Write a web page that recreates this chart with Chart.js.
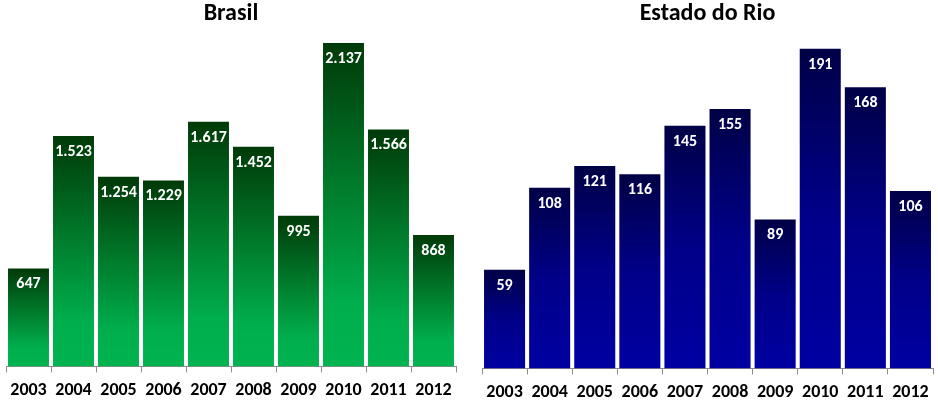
<!DOCTYPE html>
<html>
<head>
<meta charset="utf-8">
<script src="https://cdn.jsdelivr.net/npm/chart.js@4/dist/chart.umd.min.js"></script>
<style>
  body { margin: 0; background: #fff; overflow: hidden; }
  .panel { position: absolute; top: 0; width: 469px; height: 403px; overflow: hidden; }
</style>
</head>
<body>
<div class="panel" style="left:0"><canvas id="chart-brasil" width="469" height="408"></canvas></div>
<div class="panel" style="left:469px"><canvas id="chart-rio" width="469" height="410"></canvas></div>
<script>
const anos = ['2003', '2004', '2005', '2006', '2007', '2008', '2009', '2010', '2011', '2012'];
const valores_brasil = [647, 1523, 1254, 1229, 1617, 1452, 995, 2137, 1566, 868];
const valores_rio = [59, 108, 121, 116, 145, 155, 89, 191, 168, 106];

const FONTE = 'Carlito, Lato, sans-serif';

function formata_numero(v) {
    // separador de milhar com ponto
    return String(v).replace(/\B(?=(\d{3})+(?!\d))/g, '.');
}

function gradiente(stops) {
    return (ctx) => {
        const chart = ctx.chart;
        const y = chart.scales.y;
        if (!chart.chartArea || !y || ctx.raw === undefined) {
            return stops[stops.length - 1][1];
        }
        const topo = y.getPixelForValue(ctx.raw);
        const base = y.getPixelForValue(0);
        const g = chart.ctx.createLinearGradient(0, topo, 0, base);
        stops.forEach(s => g.addColorStop(s[0], s[1]));
        return g;
    };
}

const rotulos_plugin = {
    id: 'rotulos',
    afterDatasetsDraw(chart) {
        const ctx = chart.ctx;
        const meta = chart.getDatasetMeta(0);
        ctx.save();
        ctx.fillStyle = '#ffffff';
        ctx.font = 'bold 16px ' + FONTE;
        ctx.textAlign = 'center';
        ctx.textBaseline = 'middle';
        meta.data.forEach((bar, i) => {
            const v = chart.data.datasets[0].data[i];
            ctx.fillText(formata_numero(v), bar.x, bar.y + 16);
        });
        ctx.restore();
    }
};

function cria_grafico(id, titulo, valores, cores, yMax, padding) {
    return new Chart(document.getElementById(id), {
        type: 'bar',
        data: {
            labels: anos,
            datasets: [{
                data: valores,
                backgroundColor: gradiente(cores),
                borderWidth: 0,
                barPercentage: 0.91,
                categoryPercentage: 1.0
            }]
        },
        options: {
            responsive: false,
            animation: false,
            devicePixelRatio: 1,
            layout: { padding: padding },
            scales: {
                x: {
                    grid: {
                        display: true,
                        drawOnChartArea: false,
                        offset: true,
                        tickLength: 6,
                        color: '#8c8c8c'
                    },
                    border: { display: true, color: '#8c8c8c', width: 1 },
                    ticks: {
                        color: '#000',
                        padding: 7,
                        font: { family: FONTE, size: 18, weight: 'bold' }
                    }
                },
                y: {
                    display: false,
                    min: 0,
                    max: yMax
                }
            },
            plugins: {
                legend: { display: false },
                tooltip: { enabled: false },
                title: {
                    display: true,
                    text: titulo,
                    color: '#000',
                    font: { family: FONTE, size: 24, weight: 'bold' },
                    padding: { top: 0, bottom: 10 }
                }
            }
        },
        plugins: [rotulos_plugin]
    });
}

cria_grafico('chart-brasil', 'Brasil', valores_brasil,
    [[0, '#003a08'], [0.45, '#007c2c'], [0.8, '#00ad4c'], [1, '#00b450']],
    2165, { left: 6, right: 13, bottom: 0, top: 0 });

cria_grafico('chart-rio', 'Estado do Rio', valores_rio,
    [[0, '#000046'], [0.5, '#000088'], [1, '#0000a2']],
    197, { left: 13, right: 5, bottom: 0, top: 0 });
</script>
</body>
</html>
